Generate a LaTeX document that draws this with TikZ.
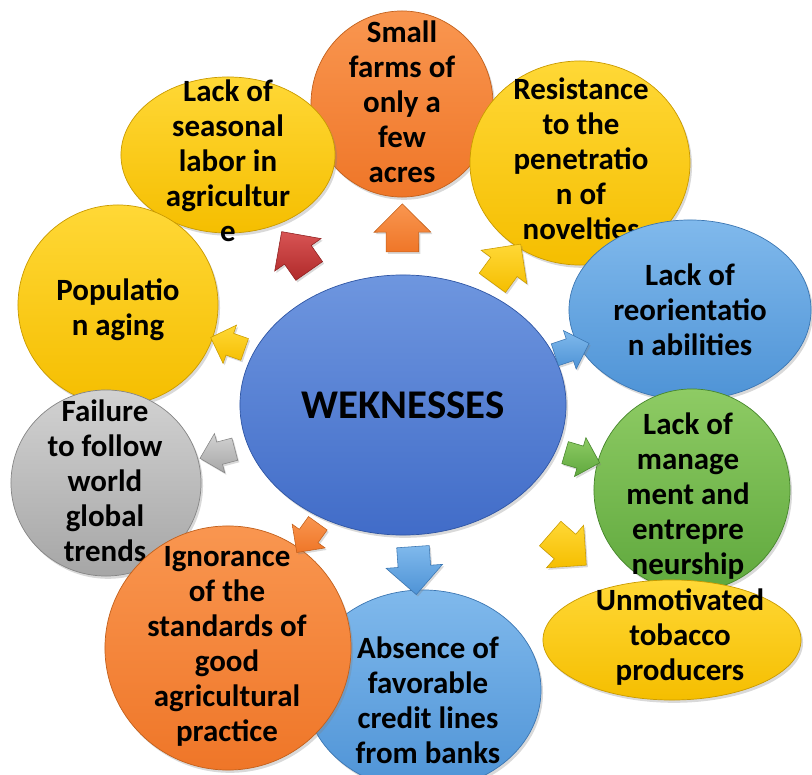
\documentclass[tikz,border=0pt]{standalone}
\usepackage{fontspec}
\setmainfont{Carlito}
\usetikzlibrary{shapes,shadows}

\definecolor{ylwA}{HTML}{FFD836}
\definecolor{ylwB}{HTML}{F5BE00}
\definecolor{ylwC}{HTML}{C99A00}
\definecolor{orgA}{HTML}{F99650}
\definecolor{orgB}{HTML}{EF7628}
\definecolor{orgC}{HTML}{C2601C}
\definecolor{lblA}{HTML}{80B9EC}
\definecolor{lblB}{HTML}{4E93D6}
\definecolor{lblC}{HTML}{3B76B2}
\definecolor{cblA}{HTML}{6E96DF}
\definecolor{cblB}{HTML}{416CC8}
\definecolor{cblC}{HTML}{2E55A4}
\definecolor{grnA}{HTML}{8ECB64}
\definecolor{grnB}{HTML}{5FA83D}
\definecolor{grnC}{HTML}{46862B}
\definecolor{gryA}{HTML}{D2D2D2}
\definecolor{gryB}{HTML}{A6A6A6}
\definecolor{gryC}{HTML}{858585}
\definecolor{redA}{HTML}{D85454}
\definecolor{redB}{HTML}{B02A2A}
\definecolor{redC}{HTML}{8E2020}

\begin{document}
\begin{tikzpicture}[
        x=0.025cm, y=-0.025cm,
        ball/.style={
            ellipse, 
            inner sep=0pt, 
            line width=0.5pt, 
            drop shadow={opacity=0.3, shadow xshift=0.05cm, shadow yshift=-0.07cm}
        },
        yellowball/.style={ball, top color=ylwA, bottom color=ylwB, draw=ylwC},
        orangeball/.style={ball, top color=orgA, bottom color=orgB, draw=orgC},
        blueball/.style={ball, top color=lblA, bottom color=lblB, draw=lblC},
        greenball/.style={ball, top color=grnA, bottom color=grnB, draw=grnC},
        grayball/.style={ball, top color=gryA, bottom color=gryB, draw=gryC},
        txt/.style={
            align=center, 
            inner sep=0pt, 
            font=\bfseries\fontsize{22}{24.9}\selectfont
        },
        arrowbox/.style={
            single arrow, 
            single arrow head extend=0.3cm, 
            minimum height=1.2cm, 
            inner xsep=0pt, 
            inner ysep=0.4cm, 
            sloped, 
            allow upside down, 
            line width=0.4pt,
            drop shadow={opacity=0.3, shadow xshift=0.04cm, shadow yshift=-0.05cm}
        },
        smallarrow/.style={
            arrowbox, 
            minimum height=0.9cm, 
            inner ysep=0.28cm, 
            single arrow head extend=0.22cm
        }
    ]
        \useasboundingbox (0,0) rectangle (812,775);
        \clip (0,0) rectangle (812,775);

        % -- Nodes --

        % Centre
        \node [ball, top color=cblA, bottom color=cblB, draw=cblC, 
               minimum width=8.15cm, minimum height=6.5cm] (wk) at (403,405) {};
        \node [txt, font=\bfseries\fontsize{29}{32}\selectfont] (wk-t) at (wk) {WEKNESSES};

        % Top row
        \node [orangeball, minimum width=4.55cm, minimum height=4.65cm] (farms) at (402,104) {};
        \node [txt] (farms-t) at (402,102) {Small\\farms of\\only a\\few\\acres};

        \node [yellowball, minimum width=5.35cm, minimum height=3.9cm] (seasonal) at (228,155) {};
        \node [txt] (seasonal-t) at (228,161) {Lack of\\seasonal\\labor in\\agricultur\\e};

        \node [yellowball, minimum width=5.5cm, minimum height=5.1cm] (resist) at (580,163) {};
        \node [txt] (resist-t) at (581,159) {Resistance\\to the\\penetratio\\n of\\novelties};

        % Right side
        \node [blueball, minimum width=6.05cm, minimum height=4.5cm] (reorient) at (690,310) {};
        \node [txt] (reorient-t) at (690,310) {Lack of\\reorientatio\\n abilities};

        \node [greenball, minimum width=4.9cm, minimum height=5.05cm] (manage) at (692,490) {};
        \node [txt] (manage-t) at (688,496) {Lack of\\manage\\ment and\\entrepre\\neurship};

        \node [yellowball, minimum width=6.45cm, minimum height=3cm] (tobacco) at (672,640) {};
        \node [txt] (tobacco-t) at (680,637) {Unmotivated\\tobacco\\producers};

        % Bottom and left side
        \node [blueball, minimum width=5.9cm, minimum height=5cm] (credit) at (423,690) {};
        \node [txt] (credit-t) at (428,700) {Absence of\\favorable\\credit lines\\from banks};

        \node [yellowball, minimum width=5cm, minimum height=5cm] (aging) at (118,305) {};
        \node [txt] (aging-t) at (118,310) {Populatio\\n aging};

        \node [grayball, minimum width=4.75cm, minimum height=4.65cm] (trends) at (106,483) {};
        \node [txt] (trends-t) at (105,481) {Failure\\to follow\\world\\global\\trends};

        \node [orangeball, minimum width=6.15cm, minimum height=6.1cm] (gap) at (228,648) {};
        \node [txt] (gap-t) at (227,646) {Ignorance\\of the\\standards of\\good\\agricultural\\practice};

        % -- Arrows --
        \path (wk) -- (farms) node [arrowbox, pos=0.5, top color=orgA, bottom color=orgB, draw=orgC] (a-farms) {};
        \path (wk) -- (seasonal) node [arrowbox, pos=0.5, top color=redA, bottom color=redB, draw=redC] (a-seasonal) {};
        \path (wk) -- (resist) node [arrowbox, pos=0.5, top color=ylwA, bottom color=ylwB, draw=ylwC] (a-resist) {};
        \path (wk) -- (reorient) node [smallarrow, pos=0.5, top color=lblA, bottom color=lblB, draw=lblC] (a-reorient) {};
        \path (wk) -- (manage) node [smallarrow, pos=0.5, top color=grnA, bottom color=grnB, draw=grnC] (a-manage) {};
        \path (wk) -- (tobacco) node [arrowbox, pos=0.5, top color=ylwA, bottom color=ylwB, draw=ylwC] (a-tobacco) {};
        \path (wk) -- (credit) node [arrowbox, pos=0.5, top color=lblA, bottom color=lblB, draw=lblC] (a-credit) {};
        \path (wk) -- (gap) node [smallarrow, pos=0.5, top color=orgA, bottom color=orgB, draw=orgC] (a-gap) {};
        \path (wk) -- (trends) node [smallarrow, pos=0.5, top color=gryA, bottom color=gryB, draw=gryC] (a-trends) {};
        \path (wk) -- (aging) node [smallarrow, pos=0.5, top color=ylwA, bottom color=ylwB, draw=ylwC] (a-aging) {};

    \end{tikzpicture}
\end{document}
